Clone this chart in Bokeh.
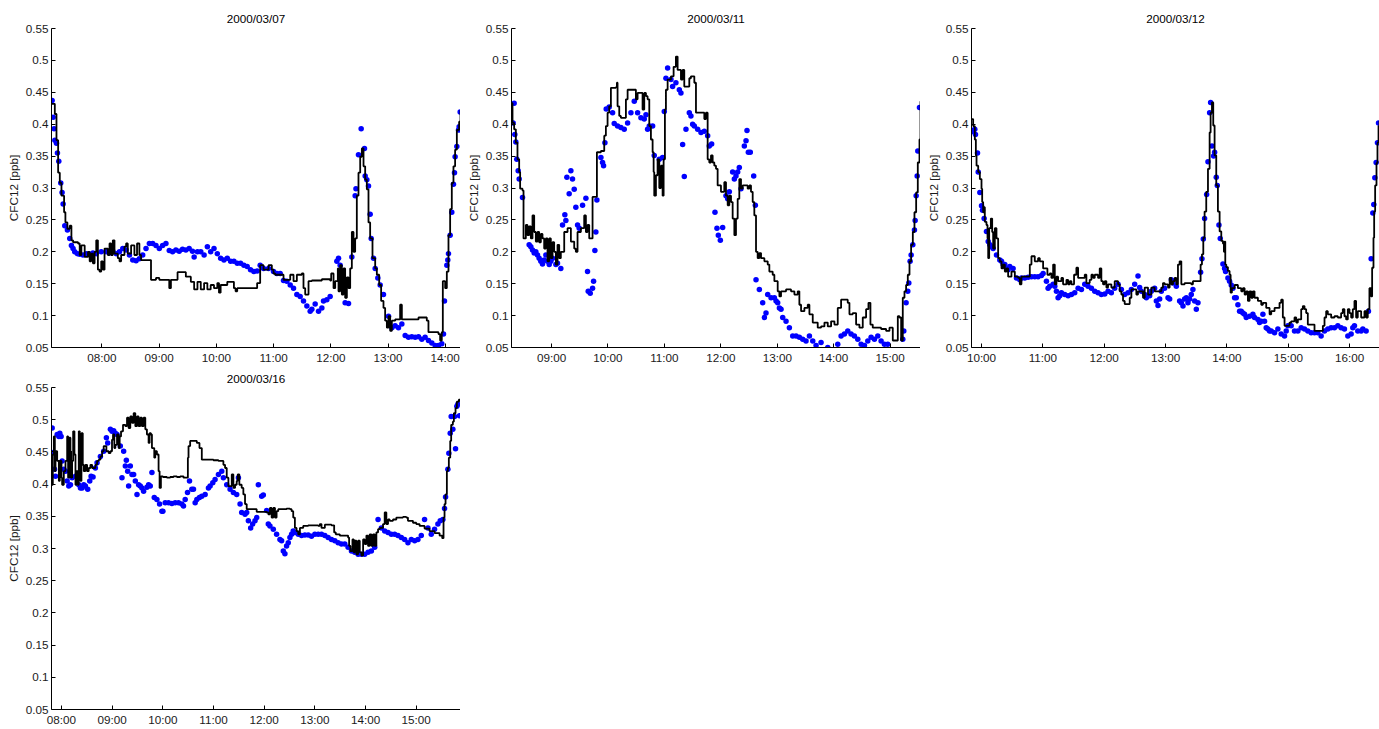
from bokeh.plotting import figure
from bokeh.layouts import column, row
from bokeh.models import Range1d, FixedTicker, CustomJSTickFormatter
from bokeh.embed import file_html
from bokeh.resources import INLINE

# ---- CFC12 mixing ratio [ppb] against time of day (decimal hours) ----

# 2000/03/07
line_t_0307 = [7.119, 7.177, 7.206, 7.235, 7.264, 7.293, 7.339, 7.362, 7.397, 7.438, 7.467, 7.496, 7.583, 7.612,
               7.641, 7.699, 7.757, 7.786, 7.814, 7.843, 7.872, 7.901, 7.930, 7.959, 7.988, 8.017, 8.046, 8.104,
               8.133, 8.162, 8.191, 8.220, 8.278, 8.307, 8.336, 8.394, 8.423, 8.452, 8.510, 8.568, 8.614, 8.655,
               8.684, 8.858, 8.945, 9.003, 9.177, 9.206, 9.322, 9.467, 9.554, 9.612, 9.670, 9.728, 9.786, 9.843,
               9.901, 9.959, 10.017, 10.046, 10.075, 10.191, 10.307, 10.336, 10.365, 10.713, 10.766, 10.825, 10.912,
               10.970, 10.999, 11.028, 11.174, 11.291, 11.349, 11.407, 11.494, 11.523, 11.553, 11.611, 11.669, 11.844,
               11.989, 12.007, 12.048, 12.077, 12.123, 12.135, 12.164, 12.193, 12.222, 12.251, 12.281, 12.310, 12.339,
               12.368, 12.397, 12.426, 12.455, 12.484, 12.514, 12.543, 12.572, 12.601, 12.630, 12.659, 12.688, 12.729,
               12.776, 12.805, 12.846, 12.880, 12.921, 12.950, 12.980, 13.009, 13.038, 13.067, 13.125, 13.212, 13.242,
               13.533, 13.678, 13.707, 13.882, 13.911, 13.940, 13.958, 13.999, 14.028, 14.057, 14.086, 14.115, 14.144,
               14.173, 14.203, 14.243, 14.267]
line_v_0307 = [0.432, 0.416, 0.375, 0.324, 0.308, 0.288, 0.262, 0.246, 0.236, 0.241, 0.218, 0.215, 0.213, 0.195,
               0.210, 0.192, 0.200, 0.185, 0.197, 0.182, 0.200, 0.218, 0.172, 0.169, 0.185, 0.172, 0.205, 0.195,
               0.213, 0.195, 0.218, 0.197, 0.190, 0.185, 0.195, 0.208, 0.213, 0.197, 0.210, 0.195, 0.213, 0.195,
               0.187, 0.156, 0.159, 0.156, 0.143, 0.156, 0.168, 0.161, 0.153, 0.141, 0.153, 0.141, 0.151, 0.141,
               0.148, 0.143, 0.151, 0.136, 0.148, 0.153, 0.143, 0.138, 0.143, 0.151, 0.179, 0.172, 0.179,
               0.172, 0.166, 0.164, 0.156, 0.164, 0.154, 0.164, 0.166, 0.143, 0.133, 0.154, 0.155, 0.157,
               0.155, 0.166, 0.143, 0.154, 0.174, 0.138, 0.179, 0.133, 0.174, 0.128, 0.160, 0.143, 0.174,
               0.231, 0.200, 0.221, 0.288, 0.324, 0.349, 0.362, 0.334, 0.313, 0.298, 0.246, 0.221, 0.190,
               0.174, 0.164, 0.148, 0.123, 0.112, 0.092, 0.081, 0.099, 0.076, 0.092, 0.094, 0.117, 0.094,
               0.097, 0.092, 0.074, 0.071, 0.061, 0.074, 0.154, 0.143, 0.169, 0.226, 0.267, 0.308, 0.334,
               0.360, 0.391, 0.404, 0.422]
dot_t_0307 = [7.130, 7.148, 7.165, 7.177, 7.206, 7.223, 7.246, 7.281, 7.304, 7.322, 7.351, 7.397, 7.438, 7.467,
              7.496, 7.525, 7.571, 7.612, 7.670, 7.728, 7.786, 7.843, 7.901, 7.988, 8.075, 8.133, 8.191, 8.249,
              8.307, 8.365, 8.423, 8.481, 8.539, 8.597, 8.655, 8.713, 8.771, 8.829, 8.887, 8.945, 9.003, 9.061,
              9.119, 9.177, 9.235, 9.293, 9.351, 9.409, 9.467, 9.525, 9.583, 9.612, 9.670, 9.728, 9.786, 9.843,
              9.901, 9.959, 10.017, 10.075, 10.133, 10.191, 10.249, 10.307, 10.365, 10.423, 10.481, 10.539, 10.597,
              10.655, 10.713, 10.766, 10.825, 10.912, 10.999, 11.058, 11.116, 11.174, 11.232, 11.291, 11.349,
              11.407, 11.465, 11.523, 11.582, 11.640, 11.669, 11.727, 11.786, 11.844, 11.873, 11.931, 11.989,
              12.106, 12.135, 12.164, 12.251, 12.310, 12.368, 12.426, 12.440, 12.484, 12.531, 12.589, 12.601,
              12.630, 12.659, 12.688, 12.706, 12.747, 12.776, 12.822, 12.863, 12.921, 13.009, 13.067, 13.125,
              13.183, 13.242, 13.300, 13.358, 13.416, 13.475, 13.533, 13.591, 13.649, 13.707, 13.766, 13.824,
              13.882, 13.940, 13.970, 13.987, 14.028, 14.045, 14.057, 14.086, 14.115, 14.144, 14.162, 14.173,
              14.203, 14.232, 14.243, 14.261]
dot_v_0307 = [0.437, 0.411, 0.393, 0.375, 0.370, 0.355, 0.342, 0.308, 0.293, 0.275, 0.241, 0.234, 0.221, 0.210,
              0.205, 0.200, 0.197, 0.196, 0.195, 0.197, 0.196, 0.198, 0.197, 0.200, 0.200, 0.198, 0.201, 0.197,
              0.200, 0.205, 0.203, 0.195, 0.187, 0.186, 0.189, 0.195, 0.205, 0.213, 0.213, 0.210, 0.205, 0.210,
              0.213, 0.202, 0.200, 0.203, 0.201, 0.204, 0.203, 0.205, 0.201, 0.192, 0.200, 0.200, 0.195, 0.208,
              0.200, 0.205, 0.197, 0.190, 0.187, 0.190, 0.185, 0.185, 0.182, 0.182, 0.179, 0.177, 0.172,
              0.169, 0.170, 0.179, 0.174, 0.174, 0.169, 0.166, 0.166, 0.155, 0.154, 0.148, 0.143,
              0.133, 0.130, 0.123, 0.115, 0.107, 0.110, 0.118, 0.107, 0.112, 0.123, 0.125, 0.130,
              0.185, 0.190, 0.179, 0.120, 0.119, 0.192, 0.288, 0.299, 0.352, 0.393, 0.362, 0.319,
              0.313, 0.303, 0.259, 0.221, 0.190, 0.174, 0.159, 0.148, 0.133, 0.099, 0.081, 0.084,
              0.081, 0.087, 0.069, 0.066, 0.067, 0.066, 0.067, 0.063, 0.066, 0.061, 0.057, 0.053,
              0.053, 0.056, 0.071, 0.123, 0.179, 0.187, 0.197, 0.226, 0.262, 0.306, 0.324, 0.349,
              0.365, 0.391, 0.396, 0.419]

# 2000/03/11
line_t_0311 = [8.291, 8.309, 8.338, 8.368, 8.397, 8.427, 8.444, 8.486, 8.504, 8.545, 8.574, 8.604, 8.634, 8.663,
               8.693, 8.722, 8.752, 8.781, 8.811, 8.840, 8.870, 8.900, 8.929, 8.959, 8.988, 9.018, 9.047, 9.077,
               9.106, 9.136, 9.165, 9.225, 9.284, 9.343, 9.402, 9.431, 9.461, 9.520, 9.579, 9.609, 9.638, 9.668,
               9.727, 9.804, 9.875, 9.934, 9.963, 9.993, 10.022, 10.052, 10.141, 10.158, 10.170, 10.200, 10.229,
               10.318, 10.348, 10.466, 10.495, 10.525, 10.584, 10.613, 10.643, 10.673, 10.702, 10.732, 10.761,
               10.791, 10.809, 10.820, 10.850, 10.879, 10.909, 10.939, 10.968, 10.986, 11.009, 11.027, 11.057,
               11.116, 11.163, 11.204, 11.234, 11.293, 11.323, 11.352, 11.441, 11.470, 11.530, 11.559, 11.707,
               11.736, 11.766, 11.795, 11.825, 11.855, 11.884, 11.914, 11.943, 12.002, 12.061, 12.091, 12.121,
               12.150, 12.180, 12.209, 12.239, 12.268, 12.298, 12.327, 12.357, 12.387, 12.475, 12.505, 12.534,
               12.564, 12.593, 12.623, 12.652, 12.682, 12.712, 12.771, 12.830, 12.859, 12.918, 12.948, 13.007,
               13.037, 13.066, 13.155, 13.243, 13.303, 13.362, 13.391, 13.421, 13.480, 13.539, 13.569, 13.628,
               13.716, 13.775, 13.835, 13.894, 13.953, 14.012, 14.071, 14.130, 14.248, 14.278, 14.337, 14.396,
               14.455, 14.514, 14.573, 14.615, 14.650, 14.691, 14.839, 14.928, 14.987, 15.046, 15.135, 15.164,
               15.194, 15.223, 15.253, 15.282, 15.312, 15.342, 15.371, 15.401, 15.430, 15.460, 15.489, 15.519,
               15.537]
line_v_0311 = [0.433, 0.402, 0.392, 0.371, 0.345, 0.325, 0.299, 0.296, 0.221, 0.242, 0.226, 0.240, 0.221, 0.257,
               0.231, 0.216, 0.231, 0.215, 0.228, 0.221, 0.205, 0.221, 0.185, 0.221, 0.190, 0.215, 0.200, 0.180,
               0.211, 0.190, 0.200, 0.231, 0.237, 0.216, 0.205, 0.200, 0.231, 0.237, 0.257, 0.231, 0.242, 0.221,
               0.286, 0.356, 0.358, 0.382, 0.397, 0.418, 0.428, 0.457, 0.458, 0.465, 0.428, 0.413, 0.410,
               0.439, 0.454, 0.454, 0.439, 0.449, 0.449, 0.423, 0.449, 0.444, 0.439, 0.397, 0.376,
               0.356, 0.325, 0.288, 0.320, 0.345, 0.300, 0.335, 0.288, 0.345, 0.423, 0.454, 0.470,
               0.475, 0.490, 0.506, 0.485, 0.470, 0.485, 0.459, 0.472, 0.475, 0.465, 0.418, 0.408,
               0.418, 0.345, 0.340, 0.351, 0.340, 0.335, 0.330, 0.304, 0.294, 0.309, 0.288, 0.273,
               0.288, 0.278, 0.252, 0.226, 0.252, 0.283, 0.314, 0.299, 0.304, 0.299, 0.304, 0.294,
               0.278, 0.257, 0.200, 0.190, 0.198, 0.190, 0.185, 0.180, 0.169, 0.164, 0.154, 0.138,
               0.130, 0.138, 0.141, 0.138, 0.133, 0.138, 0.117, 0.107, 0.112, 0.117, 0.102, 0.089,
               0.081, 0.083, 0.089, 0.083, 0.091, 0.086, 0.112, 0.125, 0.120, 0.102, 0.104, 0.086,
               0.081, 0.097, 0.110, 0.120, 0.086, 0.081, 0.079, 0.076, 0.081, 0.061, 0.099, 0.097,
               0.061, 0.128, 0.138, 0.148, 0.164, 0.185, 0.211, 0.231, 0.262, 0.293, 0.340, 0.376,
               0.436]
dot_t_0311 = [8.320, 8.338, 8.350, 8.368, 8.385, 8.409, 8.427, 8.486, 8.604, 8.634, 8.663, 8.693, 8.722, 8.752,
              8.781, 8.811, 8.840, 8.870, 8.900, 8.929, 8.959, 8.988, 9.018, 9.077, 9.106, 9.165, 9.195, 9.236,
              9.254, 9.272, 9.313, 9.343, 9.372, 9.402, 9.431, 9.461, 9.491, 9.550, 9.609, 9.638, 9.650, 9.686,
              9.727, 9.745, 9.768, 9.786, 9.804, 9.875, 9.904, 9.922, 9.946, 9.969, 10.022, 10.082, 10.111,
              10.170, 10.229, 10.288, 10.348, 10.407, 10.466, 10.525, 10.584, 10.643, 10.673, 10.702, 10.732,
              10.791, 10.820, 10.909, 10.968, 10.998, 11.027, 11.057, 11.116, 11.145, 11.204, 11.264, 11.293,
              11.323, 11.352, 11.382, 11.441, 11.470, 11.500, 11.530, 11.589, 11.648, 11.707, 11.766, 11.795,
              11.837, 11.896, 11.931, 11.955, 11.991, 12.032, 12.091, 12.121, 12.150, 12.209, 12.239, 12.268,
              12.298, 12.327, 12.357, 12.416, 12.446, 12.463, 12.487, 12.522, 12.582, 12.611, 12.623, 12.682,
              12.741, 12.771, 12.800, 12.830, 12.889, 12.948, 12.978, 13.007, 13.037, 13.066, 13.096, 13.155,
              13.214, 13.273, 13.332, 13.391, 13.450, 13.509, 13.569, 13.628, 13.687, 13.775, 13.894, 14.071,
              14.130, 14.189, 14.248, 14.307, 14.366, 14.426, 14.485, 14.544, 14.603, 14.662, 14.721, 14.780,
              14.839, 14.898, 14.957, 15.223, 15.241, 15.282, 15.312, 15.330, 15.353, 15.371, 15.401, 15.430,
              15.442, 15.460, 15.478, 15.489, 15.519]
dot_v_0311 = [0.402, 0.433, 0.384, 0.372, 0.345, 0.327, 0.314, 0.285, 0.211, 0.208, 0.203, 0.198, 0.200, 0.195,
              0.190, 0.185, 0.181, 0.187, 0.195, 0.185, 0.180, 0.185, 0.190, 0.180, 0.182, 0.174, 0.242, 0.258,
              0.249, 0.317, 0.291, 0.327, 0.314, 0.298, 0.270, 0.242, 0.237, 0.273, 0.284, 0.169, 0.138, 0.135,
              0.143, 0.154, 0.202, 0.231, 0.281, 0.348, 0.340, 0.335, 0.371, 0.424, 0.427, 0.418, 0.401,
              0.397, 0.395, 0.392, 0.402, 0.418, 0.436, 0.418, 0.410, 0.408, 0.415, 0.392, 0.397,
              0.397, 0.351, 0.345, 0.348, 0.420, 0.472, 0.488, 0.470, 0.459, 0.465, 0.454, 0.449,
              0.368, 0.318, 0.392, 0.418, 0.413, 0.400, 0.397, 0.392, 0.387, 0.389, 0.382, 0.366,
              0.369, 0.262, 0.237, 0.226, 0.218, 0.238, 0.288, 0.283, 0.294, 0.325, 0.314, 0.319,
              0.325, 0.332, 0.299, 0.366, 0.374, 0.390, 0.356, 0.356, 0.319, 0.273, 0.156, 0.141,
              0.120, 0.097, 0.104, 0.133, 0.128, 0.128, 0.123, 0.120, 0.112, 0.110, 0.097, 0.091,
              0.081, 0.068, 0.068, 0.066, 0.063, 0.060, 0.068, 0.060, 0.053, 0.058, 0.050, 0.055,
              0.068, 0.071, 0.076, 0.071, 0.068, 0.063, 0.055, 0.053, 0.060, 0.066, 0.063, 0.068,
              0.060, 0.055, 0.055, 0.063, 0.076, 0.120, 0.138, 0.151, 0.185, 0.195, 0.211, 0.234,
              0.249, 0.288, 0.319, 0.358, 0.426]

# 2000/03/12
line_t_0312 = [9.837, 9.864, 9.891, 9.908, 9.919, 9.946, 9.973, 10.000, 10.011, 10.027, 10.043, 10.054, 10.081,
               10.098, 10.109, 10.125, 10.152, 10.174, 10.190, 10.217, 10.244, 10.271, 10.298, 10.326, 10.353,
               10.380, 10.407, 10.434, 10.488, 10.543, 10.597, 10.624, 10.651, 10.787, 10.814, 10.868, 10.922,
               10.950, 11.004, 11.074, 11.112, 11.139, 11.167, 11.194, 11.221, 11.248, 11.302, 11.329, 11.384,
               11.411, 11.438, 11.465, 11.508, 11.546, 11.574, 11.682, 11.709, 11.763, 11.791, 11.818, 11.845,
               11.899, 11.926, 11.953, 11.980, 12.008, 12.035, 12.062, 12.116, 12.170, 12.225, 12.252, 12.279,
               12.306, 12.333, 12.415, 12.442, 12.523, 12.550, 12.632, 12.659, 12.713, 12.767, 12.821, 12.876,
               12.930, 12.957, 12.984, 13.039, 13.066, 13.093, 13.120, 13.147, 13.174, 13.201, 13.228, 13.256,
               13.310, 13.418, 13.445, 13.554, 13.570, 13.592, 13.614, 13.635, 13.662, 13.690, 13.717, 13.733,
               13.755, 13.776, 13.798, 13.825, 13.852, 13.880, 13.907, 13.934, 13.950, 13.961, 13.972, 13.988,
               14.015, 14.042, 14.059, 14.080, 14.124, 14.178, 14.232, 14.259, 14.287, 14.314, 14.341, 14.368,
               14.395, 14.422, 14.449, 14.504, 14.558, 14.585, 14.639, 14.694, 14.721, 14.775, 14.829, 14.856,
               14.883, 14.910, 14.938, 15.019, 15.046, 15.100, 15.128, 15.155, 15.209, 15.236, 15.263, 15.290,
               15.317, 15.426, 15.562, 15.589, 15.616, 15.643, 15.697, 15.751, 15.806, 15.860, 15.887, 15.914,
               15.941, 15.969, 15.996, 16.023, 16.050, 16.077, 16.104, 16.131, 16.186, 16.240, 16.267, 16.294,
               16.321, 16.349, 16.365, 16.387, 16.398, 16.414, 16.436, 16.452, 16.469, 16.485]
line_v_0312 = [0.408, 0.397, 0.376, 0.351, 0.335, 0.325, 0.314, 0.299, 0.278, 0.262, 0.270, 0.247, 0.242,
               0.221, 0.190, 0.237, 0.252, 0.231, 0.205, 0.237, 0.221, 0.190, 0.185, 0.174, 0.180,
               0.169, 0.174, 0.161, 0.169, 0.161, 0.159, 0.149, 0.161, 0.180, 0.193, 0.185, 0.190,
               0.185, 0.174, 0.164, 0.166, 0.159, 0.180, 0.149, 0.161, 0.154, 0.159, 0.149, 0.156,
               0.149, 0.154, 0.149, 0.164, 0.175, 0.159, 0.164, 0.151, 0.156, 0.164, 0.159, 0.164,
               0.159, 0.174, 0.154, 0.149, 0.154, 0.144, 0.149, 0.144, 0.154, 0.149, 0.138, 0.133,
               0.123, 0.118, 0.128, 0.141, 0.133, 0.138, 0.128, 0.144, 0.133, 0.144, 0.138, 0.138,
               0.144, 0.151, 0.149, 0.144, 0.159, 0.149, 0.154, 0.159, 0.149, 0.180, 0.185, 0.149,
               0.151, 0.149, 0.154, 0.154, 0.180, 0.196, 0.222, 0.263, 0.294, 0.330, 0.387, 0.418,
               0.434, 0.398, 0.351, 0.304, 0.263, 0.232, 0.217, 0.213, 0.200, 0.216, 0.180, 0.176,
               0.170, 0.164, 0.136, 0.143, 0.148, 0.143, 0.138, 0.143, 0.133, 0.138, 0.123, 0.138,
               0.128, 0.138, 0.128, 0.123, 0.117, 0.120, 0.112, 0.102, 0.107, 0.112, 0.112, 0.120,
               0.125, 0.097, 0.084, 0.089, 0.091, 0.097, 0.089, 0.094, 0.110, 0.115, 0.110, 0.104,
               0.086, 0.076, 0.084, 0.097, 0.107, 0.102, 0.097, 0.099, 0.097, 0.104, 0.110, 0.099,
               0.094, 0.110, 0.104, 0.097, 0.110, 0.123, 0.097, 0.107, 0.097, 0.107, 0.097, 0.110,
               0.143, 0.130, 0.175, 0.222, 0.263, 0.304, 0.339, 0.371, 0.397, 0.405]
dot_t_0312 = [9.837, 9.864, 9.891, 9.902, 9.935, 9.946, 9.973, 10.000, 10.016, 10.043, 10.081, 10.109, 10.136,
              10.163, 10.190, 10.244, 10.298, 10.326, 10.353, 10.380, 10.407, 10.434, 10.461, 10.515, 10.570,
              10.624, 10.651, 10.705, 10.760, 10.814, 10.868, 10.922, 10.977, 11.004, 11.058, 11.085, 11.112,
              11.167, 11.194, 11.221, 11.248, 11.275, 11.302, 11.356, 11.411, 11.465, 11.519, 11.574, 11.628,
              11.682, 11.736, 11.791, 11.845, 11.899, 11.953, 12.008, 12.062, 12.116, 12.170, 12.225, 12.279,
              12.333, 12.387, 12.442, 12.496, 12.550, 12.577, 12.604, 12.659, 12.686, 12.740, 12.767, 12.821,
              12.849, 12.876, 12.903, 12.930, 12.984, 13.039, 13.066, 13.093, 13.120, 13.174, 13.228, 13.256,
              13.283, 13.310, 13.337, 13.364, 13.391, 13.418, 13.445, 13.473, 13.500, 13.527, 13.570, 13.592,
              13.614, 13.635, 13.668, 13.690, 13.717, 13.733, 13.755, 13.782, 13.798, 13.825, 13.842, 13.869,
              13.890, 13.934, 13.961, 13.977, 14.015, 14.042, 14.069, 14.097, 14.124, 14.151, 14.178, 14.205,
              14.232, 14.259, 14.287, 14.314, 14.368, 14.422, 14.449, 14.504, 14.531, 14.558, 14.585, 14.612,
              14.639, 14.666, 14.694, 14.721, 14.775, 14.829, 14.883, 14.938, 14.965, 14.992, 15.046, 15.100,
              15.155, 15.209, 15.263, 15.317, 15.372, 15.426, 15.480, 15.534, 15.589, 15.643, 15.697, 15.751,
              15.806, 15.860, 15.914, 15.969, 16.023, 16.050, 16.077, 16.131, 16.186, 16.213, 16.267, 16.305,
              16.349, 16.376, 16.392, 16.409, 16.430, 16.452, 16.469]
dot_v_0312 = [0.388, 0.390, 0.392, 0.384, 0.355, 0.325, 0.293, 0.272, 0.265, 0.252, 0.232, 0.216, 0.211,
              0.208, 0.205, 0.195, 0.187, 0.185, 0.180, 0.180, 0.174, 0.172, 0.177, 0.174, 0.159,
              0.156, 0.159, 0.159, 0.160, 0.161, 0.161, 0.161, 0.163, 0.166, 0.154, 0.143, 0.146,
              0.149, 0.146, 0.138, 0.128, 0.131, 0.136, 0.133, 0.131, 0.133, 0.136, 0.143, 0.141,
              0.149, 0.146, 0.143, 0.138, 0.136, 0.133, 0.134, 0.138, 0.136, 0.143, 0.149, 0.141,
              0.133, 0.136, 0.141, 0.149, 0.162, 0.144, 0.138, 0.133, 0.128, 0.131, 0.138, 0.143,
              0.123, 0.116, 0.126, 0.138, 0.143, 0.128, 0.126, 0.156, 0.151, 0.146, 0.123, 0.120,
              0.115, 0.126, 0.128, 0.120, 0.126, 0.133, 0.141, 0.123, 0.110, 0.120, 0.168, 0.189,
              0.220, 0.252, 0.290, 0.341, 0.418, 0.434, 0.366, 0.350, 0.356, 0.317, 0.304, 0.242,
              0.221, 0.181, 0.174, 0.169, 0.159, 0.154, 0.148, 0.143, 0.128, 0.128, 0.117, 0.107,
              0.107, 0.104, 0.102, 0.097, 0.099, 0.102, 0.097, 0.094, 0.089, 0.091, 0.102, 0.091,
              0.081, 0.079, 0.076, 0.076, 0.073, 0.079, 0.071, 0.068, 0.076, 0.084, 0.084, 0.076,
              0.076, 0.081, 0.079, 0.076, 0.073, 0.073, 0.073, 0.068, 0.076, 0.079, 0.081, 0.081,
              0.084, 0.081, 0.079, 0.068, 0.071, 0.081, 0.084, 0.076, 0.076, 0.079, 0.076, 0.107,
              0.189, 0.261, 0.274, 0.316, 0.340, 0.371, 0.402]

# 2000/03/16
line_t_0316 = [7.803, 7.829, 7.849, 7.869, 7.882, 7.915, 7.948, 7.967, 8.000, 8.013, 8.046, 8.079, 8.112, 8.131,
               8.157, 8.177, 8.190, 8.210, 8.230, 8.256, 8.276, 8.295, 8.322, 8.341, 8.361, 8.374, 8.394, 8.420,
               8.440, 8.472, 8.505, 8.538, 8.571, 8.604, 8.669, 8.702, 8.735, 8.768, 8.801, 8.833, 8.886, 8.932,
               8.965, 8.997, 9.017, 9.043, 9.063, 9.096, 9.129, 9.148, 9.175, 9.214, 9.260, 9.293, 9.325, 9.358,
               9.391, 9.424, 9.457, 9.490, 9.522, 9.555, 9.588, 9.621, 9.654, 9.686, 9.719, 9.739, 9.765, 9.785,
               9.831, 9.850, 9.883, 9.916, 9.936, 9.962, 10.001, 10.080, 10.146, 10.211, 10.277, 10.343, 10.408,
               10.474, 10.494, 10.507, 10.539, 10.671, 10.723, 10.769, 10.999, 11.097, 11.195, 11.228, 11.261,
               11.294, 11.360, 11.392, 11.425, 11.458, 11.478, 11.510, 11.556, 11.589, 11.622, 11.655, 11.852,
               12.049, 12.081, 12.114, 12.147, 12.180, 12.213, 12.245, 12.278, 12.442, 12.508, 12.541, 12.573,
               12.606, 12.639, 12.672, 12.705, 12.770, 12.869, 12.967, 13.066, 13.098, 13.131, 13.197, 13.328,
               13.381, 13.413, 13.492, 13.591, 13.656, 13.676, 13.702, 13.742, 13.768, 13.787, 13.820, 13.853,
               13.886, 13.919, 13.952, 13.984, 14.017, 14.050, 14.083, 14.115, 14.148, 14.181, 14.214, 14.247,
               14.280, 14.345, 14.378, 14.411, 14.444, 14.476, 14.542, 14.608, 14.739, 14.804, 14.837, 14.936,
               15.001, 15.067, 15.165, 15.262, 15.362, 15.461, 15.513, 15.539, 15.559, 15.579, 15.605, 15.625,
               15.644, 15.671, 15.690, 15.723, 15.743, 15.776, 15.802, 15.841, 15.874]
line_v_0316 = [0.399, 0.446, 0.474, 0.420, 0.451, 0.436, 0.405, 0.436, 0.410, 0.399, 0.420, 0.436, 0.474, 0.410,
               0.472, 0.451, 0.410, 0.436, 0.482, 0.446, 0.399, 0.420, 0.399, 0.482, 0.451, 0.405, 0.479, 0.430,
               0.420, 0.430, 0.420, 0.425, 0.430, 0.425, 0.430, 0.436, 0.438, 0.443, 0.451, 0.459, 0.451, 0.448,
               0.451, 0.469, 0.477, 0.456, 0.461, 0.477, 0.456, 0.474, 0.482, 0.492, 0.490, 0.503, 0.487, 0.505,
               0.495, 0.510, 0.490, 0.505, 0.490, 0.503, 0.490, 0.503, 0.485, 0.477, 0.464, 0.479, 0.477, 0.456,
               0.441, 0.451, 0.446, 0.420, 0.394, 0.412, 0.411, 0.410, 0.411, 0.412, 0.411, 0.412, 0.410,
               0.410, 0.441, 0.459, 0.467, 0.464, 0.456, 0.438, 0.437, 0.436, 0.430, 0.425, 0.410,
               0.397, 0.415, 0.394, 0.399, 0.405, 0.415, 0.399, 0.394, 0.384, 0.369, 0.361, 0.357,
               0.356, 0.353, 0.363, 0.348, 0.363, 0.348, 0.358, 0.361, 0.362, 0.361, 0.358, 0.348,
               0.332, 0.327, 0.322, 0.332, 0.335, 0.336, 0.336, 0.335, 0.338, 0.332, 0.337, 0.336,
               0.325, 0.322, 0.320, 0.320, 0.317, 0.304, 0.296, 0.314, 0.294, 0.312, 0.291, 0.312,
               0.294, 0.289, 0.314, 0.307, 0.320, 0.304, 0.322, 0.304, 0.322, 0.304, 0.325, 0.330,
               0.332, 0.338, 0.356, 0.338, 0.345, 0.343, 0.345, 0.348, 0.349, 0.348, 0.343, 0.340,
               0.338, 0.335, 0.331, 0.327, 0.324, 0.320, 0.316, 0.348, 0.369, 0.384, 0.420, 0.425,
               0.441, 0.467, 0.492, 0.497, 0.510, 0.518, 0.528, 0.531, 0.528]
dot_t_0316 = [7.816, 7.836, 7.862, 7.882, 7.915, 7.948, 7.967, 7.993, 8.013, 8.046, 8.079, 8.112, 8.144, 8.177,
              8.210, 8.276, 8.341, 8.374, 8.407, 8.440, 8.472, 8.518, 8.558, 8.584, 8.623, 8.669, 8.702, 8.768,
              8.833, 8.886, 8.912, 8.965, 8.997, 9.030, 9.063, 9.096, 9.161, 9.194, 9.227, 9.260, 9.280, 9.306,
              9.325, 9.358, 9.391, 9.424, 9.457, 9.490, 9.522, 9.555, 9.588, 9.621, 9.686, 9.719, 9.752, 9.785,
              9.831, 9.883, 9.936, 9.982, 10.001, 10.047, 10.113, 10.178, 10.244, 10.310, 10.375, 10.408, 10.441,
              10.487, 10.526, 10.572, 10.605, 10.638, 10.671, 10.723, 10.769, 10.835, 10.900, 10.933, 10.986,
              11.031, 11.097, 11.163, 11.195, 11.261, 11.327, 11.392, 11.458, 11.491, 11.524, 11.556, 11.622,
              11.655, 11.688, 11.733, 11.773, 11.819, 11.852, 11.885, 11.950, 11.983, 12.049, 12.081, 12.114,
              12.180, 12.245, 12.311, 12.344, 12.377, 12.409, 12.442, 12.475, 12.508, 12.541, 12.573, 12.606,
              12.672, 12.738, 12.803, 12.869, 12.934, 13.000, 13.066, 13.131, 13.197, 13.262, 13.328, 13.394,
              13.459, 13.525, 13.591, 13.656, 13.722, 13.787, 13.853, 13.919, 13.984, 14.050, 14.115, 14.181,
              14.247, 14.312, 14.378, 14.444, 14.509, 14.575, 14.640, 14.706, 14.772, 14.837, 14.903, 14.969,
              15.034, 15.100, 15.165, 15.231, 15.297, 15.362, 15.428, 15.474, 15.526, 15.559, 15.579, 15.625,
              15.644, 15.671, 15.690, 15.723, 15.756, 15.776, 15.802, 15.822, 15.854]
dot_v_0316 = [0.487, 0.449, 0.423, 0.412, 0.477, 0.474, 0.479, 0.474, 0.436, 0.423, 0.420, 0.405, 0.397, 0.399,
              0.410, 0.412, 0.399, 0.394, 0.394, 0.399, 0.397, 0.392, 0.405, 0.412, 0.411, 0.425, 0.433, 0.443,
              0.451, 0.472, 0.464, 0.485, 0.482, 0.483, 0.479, 0.477, 0.459, 0.410, 0.451, 0.428, 0.437, 0.420,
              0.397, 0.428, 0.415, 0.415, 0.405, 0.384, 0.399, 0.397, 0.394, 0.389, 0.395, 0.399, 0.397, 0.418,
              0.379, 0.376, 0.369, 0.358, 0.358, 0.371, 0.371, 0.370, 0.371, 0.371, 0.369, 0.366, 0.376,
              0.387, 0.405, 0.392, 0.392, 0.371, 0.376, 0.379, 0.381, 0.384, 0.394, 0.397, 0.402,
              0.407, 0.415, 0.420, 0.410, 0.399, 0.392, 0.387, 0.384, 0.410, 0.369, 0.356, 0.353,
              0.356, 0.343, 0.332, 0.338, 0.343, 0.348, 0.399, 0.381, 0.383, 0.359, 0.338, 0.335,
              0.330, 0.322, 0.314, 0.312, 0.296, 0.292, 0.304, 0.309, 0.317, 0.322, 0.327, 0.325,
              0.322, 0.320, 0.321, 0.321, 0.319, 0.322, 0.322, 0.322, 0.320, 0.317, 0.314, 0.312,
              0.309, 0.307, 0.307, 0.302, 0.296, 0.294, 0.291, 0.291, 0.291, 0.294, 0.296, 0.302,
              0.345, 0.332, 0.327, 0.325, 0.322, 0.322, 0.320, 0.317, 0.314, 0.309, 0.314, 0.312,
              0.314, 0.320, 0.345, 0.332, 0.322, 0.330, 0.338, 0.343, 0.345, 0.362, 0.380, 0.423,
              0.448, 0.479, 0.505, 0.485, 0.505, 0.455, 0.521, 0.524, 0.506]

days = [
    ("2000/03/07", line_t_0307, line_v_0307, dot_t_0307, dot_v_0307),
    ("2000/03/11", line_t_0311, line_v_0311, dot_t_0311, dot_v_0311),
    ("2000/03/12", line_t_0312, line_v_0312, dot_t_0312, dot_v_0312),
    ("2000/03/16", line_t_0316, line_v_0316, dot_t_0316, dot_v_0316),
]

y_ticks = [0.05, 0.1, 0.15, 0.2, 0.25, 0.3, 0.35, 0.4, 0.45, 0.5, 0.55]
hour_ticks = list(range(0, 25))

FONT = "Liberation Sans"
FSIZE = "11.7px"


def make_panel(title, lt, lv, dt, dv, width, height, top, bottom, title_standoff):
    p = figure(width=width, height=height, output_backend="svg", toolbar_location=None,
               x_range=Range1d(min(lt), max(lt)), y_range=Range1d(0.05, 0.55),
               min_border_left=51, min_border_right=0, min_border_top=top, min_border_bottom=bottom,
               title=title)
    p.title.align = "center"
    p.title.text_font = FONT
    p.title.text_font_size = FSIZE
    p.title.text_font_style = "normal"
    p.title.text_color = "#000000"
    p.title.standoff = title_standoff
    p.outline_line_color = None
    p.xgrid.visible = False
    p.ygrid.visible = False
    p.background_fill_color = "white"
    p.border_fill_color = "white"

    p.scatter(dt, dv, size=5.5, color="#0000ff", line_color=None)
    p.step(lt, lv, mode="after", line_color="black", line_width=1.8)

    for ax in (p.xaxis[0], p.yaxis[0]):
        ax.axis_line_color = "black"
        ax.major_tick_line_color = "black"
        ax.major_tick_in = 4
        ax.major_tick_out = 0
        ax.minor_tick_line_color = None
        ax.major_label_text_font = FONT
        ax.major_label_text_font_size = FSIZE
        ax.major_label_text_color = "#1a1a1a"
        ax.major_label_standoff = 3

    p.yaxis.ticker = FixedTicker(ticks=y_ticks)
    p.yaxis.formatter = CustomJSTickFormatter(code="return tick.toFixed(2).replace(/0$/, '');")
    p.yaxis.axis_label = "CFC12 [ppb]"
    p.yaxis.axis_label_text_font = FONT
    p.yaxis.axis_label_text_font_size = FSIZE
    p.yaxis.axis_label_text_font_style = "normal"
    p.yaxis.axis_label_text_color = "#1a1a1a"
    p.yaxis.axis_label_standoff = 3

    p.xaxis.ticker = FixedTicker(ticks=hour_ticks)
    p.xaxis.formatter = CustomJSTickFormatter(
        code="const h = Math.round(tick); return (h < 10 ? '0' : '') + h + ':00';")
    return p


p1 = make_panel(*days[0], width=460, height=366, top=28, bottom=16, title_standoff=7)
p2 = make_panel(*days[1], width=460, height=366, top=28, bottom=16, title_standoff=7)
p3 = make_panel(*days[2], width=459, height=366, top=28, bottom=16, title_standoff=7)
p4 = make_panel(*days[3], width=460, height=363, top=20, bottom=20, title_standoff=6)

layout = column(row(p1, p2, p3), row(p4))

with open("out.html", "w") as f:
    f.write(file_html(layout, INLINE))
